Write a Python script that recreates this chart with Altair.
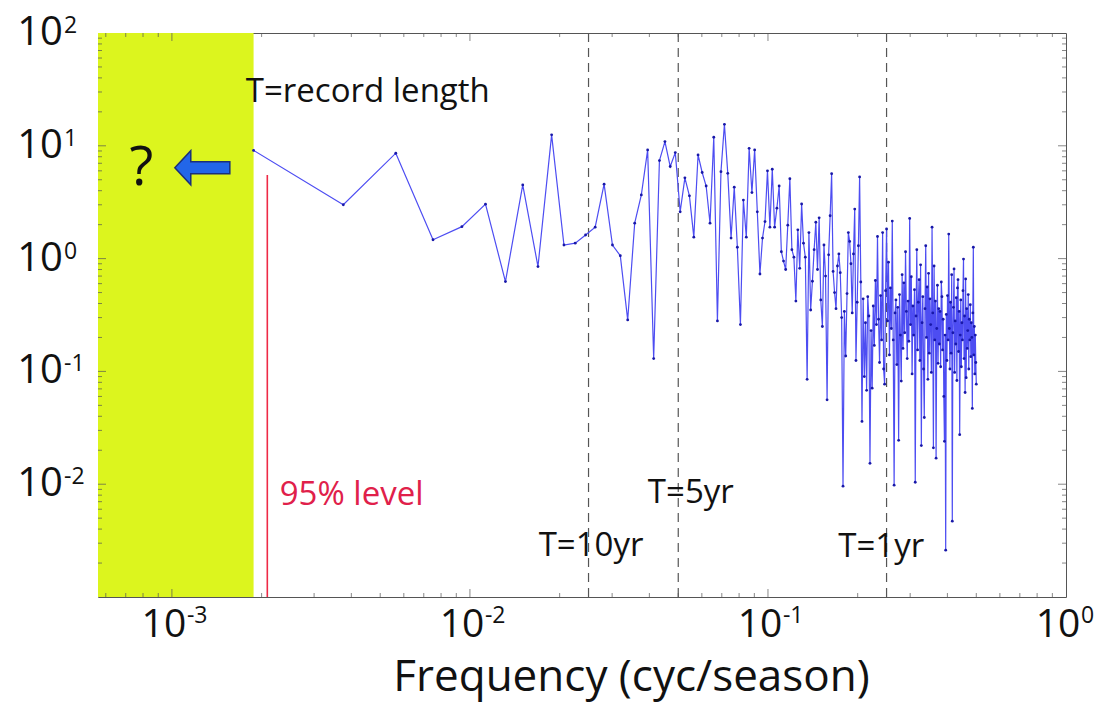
import altair as alt
import pandas as pd

# Periodogram of a seasonal record: N seasons, frequencies k/N (cycles per season)
N_SEASONS = 532
X_MIN, X_MAX = 5.65e-4, 1.0
Y_MIN, Y_MAX = 1e-3, 1e2

# Spectral power by harmonic k (read in bands)
power_k1_50 = [9.1, 3.0, 8.6, 1.47, 1.92, 3.04, 0.625, 4.5, 0.85, 12.5,
               1.32, 1.37, 1.62, 1.9, 4.57, 1.32, 1.06, 0.286, 2.06, 3.67,
               9.2, 0.13, 7.4, 10.9, 6.55, 8.7, 2.6, 5.2, 3.6, 1.55,
               8.3, 5.8, 4.4, 2.06, 11.9, 0.28, 5.9, 15.5, 5.7, 1.52,
               4.3, 1.26, 0.26, 3.3, 1.55, 9.5, 3.85, 9.2, 2.6, 0.73]
power_k51_100 = [1.52, 2.13, 6.0, 1.9, 6.2, 1.9, 2.8, 4.4, 1.15, 0.95,
                 0.8, 1.98, 5.1, 1.2, 1.03, 0.42, 1.8, 0.82, 3.05, 1.37,
                 1.03, 0.085, 1.7, 0.35, 0.63, 1.2, 2.1, 0.8, 2.3, 0.43,
                 0.25, 1.32, 0.7, 0.056, 1.08, 2.4, 5.65, 0.77, 0.5, 0.36,
                 0.86, 1.1, 0.75, 0.3, 0.0096, 0.34, 0.137, 0.49, 1.7, 1.42]
power_k101_133 = [0.9, 0.33, 1.1, 2.75, 0.125, 0.41, 1.3, 5.3, 0.62, 0.036,
                  0.44, 0.09, 0.27, 0.068, 0.46, 0.31, 0.0153, 0.23, 0.071, 0.38,
                  0.17, 0.64, 0.26, 1.57, 0.29, 0.12, 0.47, 0.19, 1.7, 0.105,
                  0.077, 0.52, 1.83]
power_k134_200 = [0.28, 0.93, 0.14, 0.55, 0.24, 2.15, 0.19, 0.0098, 0.33, 0.43,
                  0.115, 0.37, 0.0245, 0.48, 0.21, 0.082, 0.72, 0.16, 0.61, 0.22,
                  1.15, 0.34, 0.13, 0.42, 0.185, 2.27, 0.26, 0.69, 0.095, 0.38,
                  0.21, 0.53, 0.0104, 0.31, 1.2, 0.155, 0.41, 0.65, 0.125, 0.88,
                  0.022, 0.27, 0.46, 0.105, 0.039, 0.36, 1.3, 0.2, 0.56, 0.085,
                  0.74, 0.145, 0.44, 0.26, 0.098, 1.9, 0.33, 0.021, 0.86, 0.19,
                  0.42, 0.017, 0.24, 0.58, 0.118, 0.36, 0.175]
power_k201_266 = [0.34, 0.11, 0.62, 0.46, 0.155, 0.29, 0.06, 0.024, 0.21, 0.0026,
                  0.32, 0.125, 0.47, 0.19, 1.65, 0.24, 0.105, 0.41, 0.145, 0.72,
                  0.0047, 0.22, 0.37, 0.81, 0.098, 0.28, 0.175, 0.45, 0.083, 0.55,
                  0.65, 0.15, 0.34, 0.0275, 0.21, 0.43, 0.11, 0.27, 0.19, 0.52,
                  0.99, 0.13, 0.31, 0.065, 0.66, 0.088, 0.36, 0.16, 0.23, 0.48,
                  0.105, 0.29, 0.19, 0.39, 0.135, 0.27, 0.2, 0.047, 0.33, 1.26,
                  0.14, 0.25, 0.095, 0.21, 0.12, 0.077]

power = power_k1_50 + power_k51_100 + power_k101_133 + power_k134_200 + power_k201_266
freq = [k / N_SEASONS for k in range(1, len(power) + 1)]
spectrum = pd.DataFrame({"freq": freq, "power": power})

# Reference periods (cyc/season) and labels
period_freqs = [0.025, 0.05, 0.25]
period_labels = ["T=10yr", "T=5yr", "T=1yr"]
period_label_x = [0.0255, 0.0551, 0.24]
period_label_y = [2.3e-3, 6.8e-3, 2.27e-3]

# 95% significance marker
level_freq = 2.09e-3
level_top = 5.5

# Tick labels as base "10" plus exponent
x_tick_vals = [1e-3, 1e-2, 1e-1, 1.0]
x_tick_exp = ["-3", "-2", "-1", "0"]
y_tick_vals = [1e2, 1e1, 1.0, 1e-1, 1e-2]
y_tick_exp = ["2", "1", "0", "-1", "-2"]

x_major = [1e-3, 1e-2, 1e-1]
x_minor = [m * 10.0 ** d for d in (-4, -3, -2, -1) for m in range(2, 10)
           if X_MIN < m * 10.0 ** d < X_MAX]
y_major = [1e-2, 1e-1, 1.0, 1e1]
y_minor = [m * 10.0 ** d for d in (-3, -2, -1, 0, 1) for m in range(2, 10)]

W, H = 968, 564
FONT = "Open Sans"

xs = alt.Scale(type="log", domain=[X_MIN, X_MAX], nice=False)
ys = alt.Scale(type="log", domain=[Y_MIN, Y_MAX], nice=False)
x_axis = alt.Axis(labels=False, ticks=False, domain=False, grid=False,
                  title="Frequency (cyc/season)", titleFontSize=44, titleFont=FONT,
                  titleFontWeight="normal", titleColor="#111", titleX=533, titleY=93,
                  titleBaseline="alphabetic", titleAlign="center", titleAnchor="start")


def X(field):
    return alt.X(f"{field}:Q", scale=xs, axis=x_axis)


def Y(field):
    return alt.Y(f"{field}:Q", scale=ys, axis=None)


# Unknown low-frequency band beyond the record length
band = pd.DataFrame({"x0": [X_MIN], "x1": [freq[0]], "y0": [Y_MIN], "y1": [Y_MAX]})
band_layer = alt.Chart(band).mark_rect(color="#dcf51e").encode(
    x=X("x0"), x2="x1", y=Y("y0"), y2="y1")

periods = pd.DataFrame({"freq": period_freqs, "label": period_labels,
                        "lx": period_label_x, "ly": period_label_y})
period_rules = alt.Chart(periods).mark_rule(
    color="#555", strokeWidth=1.2, strokeDash=[9, 6]).encode(x=X("freq"))
period_text = alt.Chart(periods).mark_text(
    font=FONT, fontSize=33, color="#111", align="center", baseline="alphabetic"
).encode(x=X("lx"), y=Y("ly"), text="label:N")

level = pd.DataFrame({"freq": [level_freq], "top": [level_top], "bottom": [Y_MIN],
                      "tx": [2.30e-3], "ty": [6.5e-3], "label": ["95% level"]})
level_rule = alt.Chart(level).mark_rule(color="#ee2a46", strokeWidth=1.6).encode(
    x=X("freq"), y=Y("top"), y2="bottom")
level_text = alt.Chart(level).mark_text(
    font=FONT, fontSize=33, color="#e0204a", align="left", baseline="alphabetic"
).encode(x=X("tx"), y=Y("ty"), text="label:N")

record = pd.DataFrame({"tx": [1.77e-3], "ty": [24.5], "label": ["T=record length"]})
record_text = alt.Chart(record).mark_text(
    font=FONT, fontSize=33, color="#111", align="left", baseline="alphabetic"
).encode(x=X("tx"), y=Y("ty"), text="label:N")

spec_line = alt.Chart(spectrum).mark_line(color="#4d4df2", strokeWidth=1.2).encode(
    x=X("freq"), y=Y("power"))
spec_pts = alt.Chart(spectrum).mark_point(
    filled=True, color="#1818a8", size=8, opacity=1).encode(x=X("freq"), y=Y("power"))

# Arrow and question mark pointing into the unresolved band
arrow_path = "M-1,0L-0.42,-0.62L-0.42,-0.22L1,-0.22L1,0.22L-0.42,0.22L-0.42,0.62Z"
marker = pd.DataFrame({"ax": [1.265e-3], "ay": [6.38], "qx": [7.9e-4], "q": ["?"]})
arrow = alt.Chart(marker).mark_point(
    shape=arrow_path, size=3025, filled=True, fill="#2266e8", stroke="#1a2f7a",
    strokeWidth=1.5, opacity=1).encode(x=X("ax"), y=Y("ay"))
qmark = alt.Chart(marker).mark_text(
    font=FONT, fontSize=55, color="#111", align="center", baseline="middle"
).encode(x=X("qx"), y=Y("ay"), text="q:N")


# Inside tick marks on all four sides
def tick_layer(vals, length, side):
    df = pd.DataFrame({"v": vals})
    if side in ("bottom", "top"):
        ypix = H - length / 2 if side == "bottom" else length / 2
        return alt.Chart(df).mark_tick(orient="vertical", size=length, thickness=1,
                                       color="#555").encode(x=X("v"), y=alt.value(ypix))
    xpix = length / 2 if side == "left" else W - length / 2
    return alt.Chart(df).mark_tick(orient="horizontal", size=length, thickness=1,
                                   color="#555").encode(x=alt.value(xpix), y=Y("v"))


ticks = []
for side in ("bottom", "top"):
    ticks.append(tick_layer(x_major, 8, side))
    ticks.append(tick_layer(x_minor, 4, side))
for side in ("left", "right"):
    ticks.append(tick_layer(y_major, 8, side))
    ticks.append(tick_layer(y_minor, 4, side))

# Tick labels
xl = pd.DataFrame({"v": x_tick_vals, "e": x_tick_exp, "b": ["10"] * 4, "y0": [Y_MIN] * 4})
x_base = alt.Chart(xl).mark_text(font=FONT, fontSize=39, color="#111", align="center",
                                 baseline="alphabetic", dx=-8, dy=40).encode(
    x=X("v"), y=Y("y0"), text="b:N")
x_exp = alt.Chart(xl).mark_text(font=FONT, fontSize=23, color="#111", align="left",
                                baseline="alphabetic", dx=15, dy=26).encode(
    x=X("v"), y=Y("y0"), text="e:N")

yl = pd.DataFrame({"v": y_tick_vals, "e": y_tick_exp, "b": ["10"] * 5})
y_base = alt.Chart(yl).mark_text(font=FONT, fontSize=40, color="#111", align="right",
                                 baseline="middle").encode(
    x=alt.value(-35), y=Y("v"), text="b:N")
y_exp = alt.Chart(yl).mark_text(font=FONT, fontSize=23, color="#111", align="left",
                                baseline="alphabetic").encode(
    x=alt.value(-34), y=Y("v"), text="e:N")

chart = alt.layer(
    band_layer, period_rules, level_rule, spec_line, spec_pts,
    period_text, level_text, record_text, arrow, qmark,
    *ticks, x_base, x_exp, y_base, y_exp,
).properties(
    width=W, height=H,
    padding={"left": 98, "top": 33, "right": 35, "bottom": 116},
    autosize=alt.AutoSizeParams(type="none"),
    background="white",
).configure_view(stroke="#555", strokeWidth=1)

chart.save("out.html", embed_options={"renderer": "svg", "actions": False})
